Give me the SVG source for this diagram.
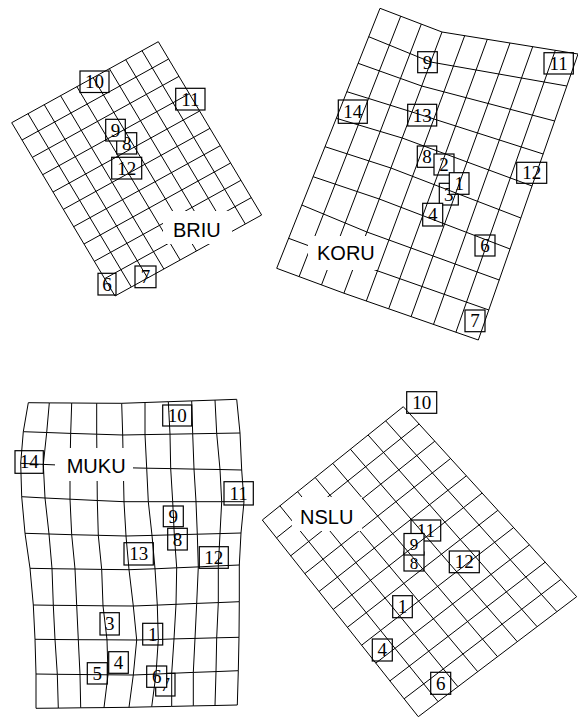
<svg xmlns="http://www.w3.org/2000/svg" width="578" height="718" viewBox="0 0 578 718">
<style>
.g{fill:none;stroke:#000;stroke-width:1}
.b{fill:#fff;stroke:#000;stroke-width:1.2}
.n{font-family:"Liberation Serif","Times New Roman",serif;font-size:19px;text-anchor:middle;fill:#000}
.s{font-size:17px}
.l{font-family:"Liberation Sans",Arial,sans-serif;font-size:20px;fill:#000}
.w{fill:#fff;stroke:none}
</style>
<rect width="578" height="718" fill="#fff"/>

<g id="briu">
  <g id="briu-10"><rect class="b" x="80" y="71" width="29" height="21.5"/><text class="n" x="94.5" y="88">10</text></g>
  <g id="briu-11"><rect class="b" x="175.7" y="88.3" width="29.3" height="21.7"/><text class="n" x="190.3" y="105.5">11</text></g>
  <g id="briu-8"><rect class="b" x="116.7" y="132.7" width="20" height="21.3"/><text class="n" x="126.7" y="149.6">8</text></g>
  <g id="briu-9"><rect class="b" x="105.7" y="119.3" width="19.6" height="21.7"/><text class="n" x="115.5" y="136.5">9</text></g>
  <g id="briu-12"><rect class="b" x="111.7" y="157.3" width="30" height="21.7"/><text class="n" x="126.7" y="174.5">12</text></g>
  <g id="briu-6"><rect class="b" x="98" y="273.3" width="18" height="21.7"/><text class="n" x="107" y="290.5">6</text></g>
  <g id="briu-7"><rect class="b" x="135" y="266" width="21" height="21.7"/><text class="n" x="145.5" y="283.2">7</text></g>
  <path class="g" vector-effect="non-scaling-stroke" transform="matrix(16.29,-9,10.33,17.33,11.7,122.7)" d="M0,0V10M1,0V10M2,0V10M3,0V10M4,0V10M5,0V10M6,0V10M7,0V10M8,0V10M9,0V10M0,0H9M0,1H9M0,2H9M0,3H9M0,4H9M0,5H9M0,6H9M0,7H9M0,8H9M0,9H9M0,10H9"/>
  <rect class="w" x="163" y="211" width="69" height="33"/>
  <g id="briu-label"><text class="l" x="173" y="236.7">BRIU</text></g>
</g>

<g id="koru">
  <g id="koru-9"><rect class="b" x="417.7" y="51.7" width="19.6" height="21"/><text class="n" x="427.5" y="68.5">9</text></g>
  <g id="koru-11"><rect class="b" x="544" y="52.7" width="29.3" height="21.3"/><text class="n" x="558.7" y="69.7">11</text></g>
  <g id="koru-14"><rect class="b" x="338.3" y="100" width="29" height="23.3"/><text class="n" x="352.8" y="118">14</text></g>
  <g id="koru-13"><rect class="b" x="407.7" y="104.3" width="29" height="21.7"/><text class="n" x="422.2" y="121.5">13</text></g>
  <g id="koru-8"><rect class="b" x="417.3" y="146" width="19.4" height="21.3"/><text class="n" x="427" y="163">8</text></g>
  <g id="koru-2"><rect class="b" x="434" y="154" width="20" height="21"/><text class="n" x="444" y="170.8">2</text></g>
  <g id="koru-3"><rect class="b" x="439.3" y="183.3" width="19" height="21.7"/><text class="n" x="448.8" y="200.5">3</text></g>
  <g id="koru-1"><rect class="b" x="449.3" y="172.7" width="19.7" height="21.6"/><text class="n" x="459.2" y="189.8">1</text></g>
  <g id="koru-4"><rect class="b" x="422.7" y="203.3" width="20" height="22.7"/><text class="n" x="432.7" y="221">4</text></g>
  <g id="koru-12"><rect class="b" x="516.7" y="162.3" width="30" height="21"/><text class="n" x="531.7" y="179.1">12</text></g>
  <g id="koru-6"><rect class="b" x="475" y="235" width="20" height="21"/><text class="n" x="485" y="251.8">6</text></g>
  <g id="koru-7"><rect class="b" x="465" y="310" width="20" height="21.7"/><text class="n" x="475" y="327.2">7</text></g>
  <path class="g" d="M380,8.3L442,32L578,54M368.7,36.7L430.7,62L566.8,86M358.1,63.3L421.7,86L554.7,121M346.9,91.7L412,112L543.2,154M336.3,118.3L402.2,138L532.1,186M325,146.7L390.9,168L520.9,218M313.1,176.7L379.3,199L510.1,249M301.8,205L366.9,232L499.3,280M288.6,238.3L355.2,263L488.9,310M276.7,268.3L343.9,293.2L478.3,340"/>
  <path class="g" d="M380,8.3L276.7,268.3M400.7,16.2L299.1,276.6M421.3,24.1L321.5,284.9M442,32L343.9,293.2M464.7,35.7L366.3,301M487.3,39.3L388.7,308.8M510,43L411.1,316.6M532.7,46.7L433.5,324.4M555.3,50.3L455.9,332.2M578,54L478.3,340"/>
  <rect class="w" x="308" y="236" width="69" height="34"/>
  <g id="koru-label"><text class="l" x="317" y="260">KORU</text></g>
</g>

<g id="muku">
  <g id="muku-10"><rect class="b" x="162.7" y="405" width="29" height="21"/><text class="n" x="177.2" y="421.8">10</text></g>
  <g id="muku-14"><rect class="b" x="15" y="450.7" width="28.3" height="22.6"/><text class="n" x="29.2" y="468.3">14</text></g>
  <g id="muku-11"><rect class="b" x="224" y="481.7" width="29.3" height="23.3"/><text class="n" x="238.7" y="499.7">11</text></g>
  <g id="muku-9"><rect class="b" x="163.3" y="506" width="20" height="20.7"/><text class="n" x="173.3" y="522.7">9</text></g>
  <g id="muku-8"><rect class="b" x="167.7" y="528.3" width="19.6" height="21.7"/><text class="n" x="177.5" y="545.5">8</text></g>
  <g id="muku-13"><rect class="b" x="124" y="542.7" width="29.3" height="22.3"/><text class="n" x="138.7" y="560.2">13</text></g>
  <g id="muku-12"><rect class="b" x="199.3" y="546.7" width="29" height="21.6"/><text class="n" x="213.8" y="563.8">12</text></g>
  <g id="muku-3"><rect class="b" x="100" y="612.7" width="19.3" height="22.3"/><text class="n" x="109.7" y="630.2">3</text></g>
  <g id="muku-1"><rect class="b" x="142.7" y="623.3" width="20" height="21.7"/><text class="n" x="152.7" y="640.5">1</text></g>
  <g id="muku-4"><rect class="b" x="108.7" y="651.7" width="19.6" height="21.6"/><text class="n" x="118.5" y="668.8">4</text></g>
  <g id="muku-5"><rect class="b" x="87.3" y="662.7" width="20" height="21.3"/><text class="n" x="97.3" y="679.7">5</text></g>
  <g id="muku-7"><rect class="b" x="155.7" y="673.3" width="19.3" height="22.7"/><text class="n" x="165.3" y="691">7</text></g>
  <g id="muku-6"><rect class="b" x="146.7" y="666" width="20" height="21.3"/><text class="n" x="156.7" y="683">6</text></g>
  <path class="g" d="M28.3,402.7L49.3,402.9L71.7,403L96.7,403.2L121.7,403.3L145,402.5L168.3,401.7L191.7,400.9L215,400.1L236.7,399.3M23.3,431.7L46.7,432.5L70.7,433.4L96.7,434.2L122.7,435L145,434.6L170,434.2L192.7,433.8L216.7,433.4L240,433M20.7,463.3L43.3,464.4L70,465.5L97,466.6L123.3,467.7L146.7,468.2L170.7,468.6L194,469.1L220,469.5L241.7,470M21.7,496.7L45,498L70,499.2L97.3,500.5L124,501.7L148.3,501.7L172.7,501.7L196,501.7L221.7,501.7L244,501.7M25,533.3L49,534L71.7,534.7L98.3,535.3L126,536L152,535.4L174.3,534.8L197.3,534.2L220,533.6L241,533M30,568.3L52,568.7L75,569L101.7,569.4L129,569.7L155,568.8L176.7,567.8L198.3,566.9L218.3,565.9L239.3,565M33.3,605L53.3,605.3L76.7,605.5L103,605.8L133.3,606L157.3,605.1L176,604.3L196.7,603.4L218.3,602.6L239.3,601.7M35,639.3L55,639.5L78.3,639.7L107,639.8L136.7,640L158.3,639.5L174,638.9L195,638.4L216.7,637.8L239,637.3M36,674L57.3,674.3L80,674.5L108,674.8L133.3,675L156,674.1L171.7,673.3L193.3,672.4L216,671.6L238.3,670.7M36,708.3L58.3,708.1L80.7,707.8L104,707.6L129,707.3L151.7,706.8L171.7,706.4L193.3,705.9L215,705.5L237.3,705"/>
  <path class="g" d="M28.3,402.7L23.3,431.7L20.7,463.3L21.7,496.7L25,533.3L30,568.3L33.3,605L35,639.3L36,674L36,708.3M49.3,402.9L46.7,432.5L43.3,464.4L45,498L49,534L52,568.7L53.3,605.3L55,639.5L57.3,674.3L58.3,708.1M71.7,403L70.7,433.4L70,465.5L70,499.2L71.7,534.7L75,569L76.7,605.5L78.3,639.7L80,674.5L80.7,707.8M96.7,403.2L96.7,434.2L97,466.6L97.3,500.5L98.3,535.3L101.7,569.4L103,605.8L107,639.8L108,674.8L104,707.6M121.7,403.3L122.7,435L123.3,467.7L124,501.7L126,536L129,569.7L133.3,606L136.7,640L133.3,675L129,707.3M145,402.5L145,434.6L146.7,468.2L148.3,501.7L152,535.4L155,568.8L157.3,605.1L158.3,639.5L156,674.1L151.7,706.8M168.3,401.7L170,434.2L170.7,468.6L172.7,501.7L174.3,534.8L176.7,567.8L176,604.3L174,638.9L171.7,673.3L171.7,706.4M191.7,400.9L192.7,433.8L194,469.1L196,501.7L197.3,534.2L198.3,566.9L196.7,603.4L195,638.4L193.3,672.4L193.3,705.9M215,400.1L216.7,433.4L220,469.5L221.7,501.7L220,533.6L218.3,565.9L218.3,602.6L216.7,637.8L216,671.6L215,705.5M236.7,399.3L240,433L241.7,470L244,501.7L241,533L239.3,565L239.3,601.7L239,637.3L238.3,670.7L237.3,705"/>
  <rect class="w" x="55" y="448" width="78" height="33"/>
  <g id="muku-label"><text class="l" x="66.7" y="473.3">MUKU</text></g>
</g>

<g id="nslu">
  <g id="nslu-10"><rect class="b" x="406.7" y="391.7" width="30" height="21.6"/><text class="n" x="421.7" y="408.8">10</text></g>
  <g id="nslu-11"><rect class="b" x="411" y="520" width="29.7" height="21"/><text class="n" x="425.8" y="536.8">11</text></g>
  <g id="nslu-8"><rect class="b" x="404" y="552" width="20" height="19"/><text class="n s" x="414" y="568.5">8</text></g>
  <g id="nslu-9"><rect class="b" x="404" y="533.5" width="20" height="21.5"/><text class="n s" x="414" y="549.5">9</text></g>
  <g id="nslu-12"><rect class="b" x="449.3" y="551" width="30" height="21.7"/><text class="n" x="464.3" y="568.2">12</text></g>
  <g id="nslu-1"><rect class="b" x="392.7" y="595.7" width="19.6" height="22"/><text class="n" x="402.5" y="613">1</text></g>
  <g id="nslu-4"><rect class="b" x="372.3" y="639" width="20" height="22"/><text class="n" x="382.3" y="656.3">4</text></g>
  <g id="nslu-6"><rect class="b" x="430.7" y="672.3" width="20" height="22"/><text class="n" x="440.7" y="689.6">6</text></g>
  <path class="g" d="M262.3,520L418.3,716.7M279.9,505.8L438.1,701.7M297.6,491.7L457.9,686.7M315.2,477.5L477.7,671.7M332.8,463.4L497.5,656.7M350.4,449.2L517.3,641.7M368.1,435L537.1,626.7M385.7,420.9L556.9,611.7M403.3,406.7L576.7,596.7"/>
  <path class="g" d="M262.3,520L403.3,406.7M276.5,537.9L419.1,424M290.7,555.8L434.8,441.2M304.8,573.6L450.6,458.5M319,591.5L466.4,475.8M333.2,609.4L482.1,493.1M347.4,627.3L497.9,510.3M361.6,645.2L513.6,527.6M375.8,663.1L529.4,544.9M389.9,680.9L545.2,562.2M404.1,698.8L560.9,579.4M418.3,716.7L576.7,596.7"/>
  <rect class="w" x="292" y="497" width="70" height="34"/>
  <g id="nslu-label"><text class="l" x="300" y="524.3">NSLU</text></g>
</g>
</svg>
